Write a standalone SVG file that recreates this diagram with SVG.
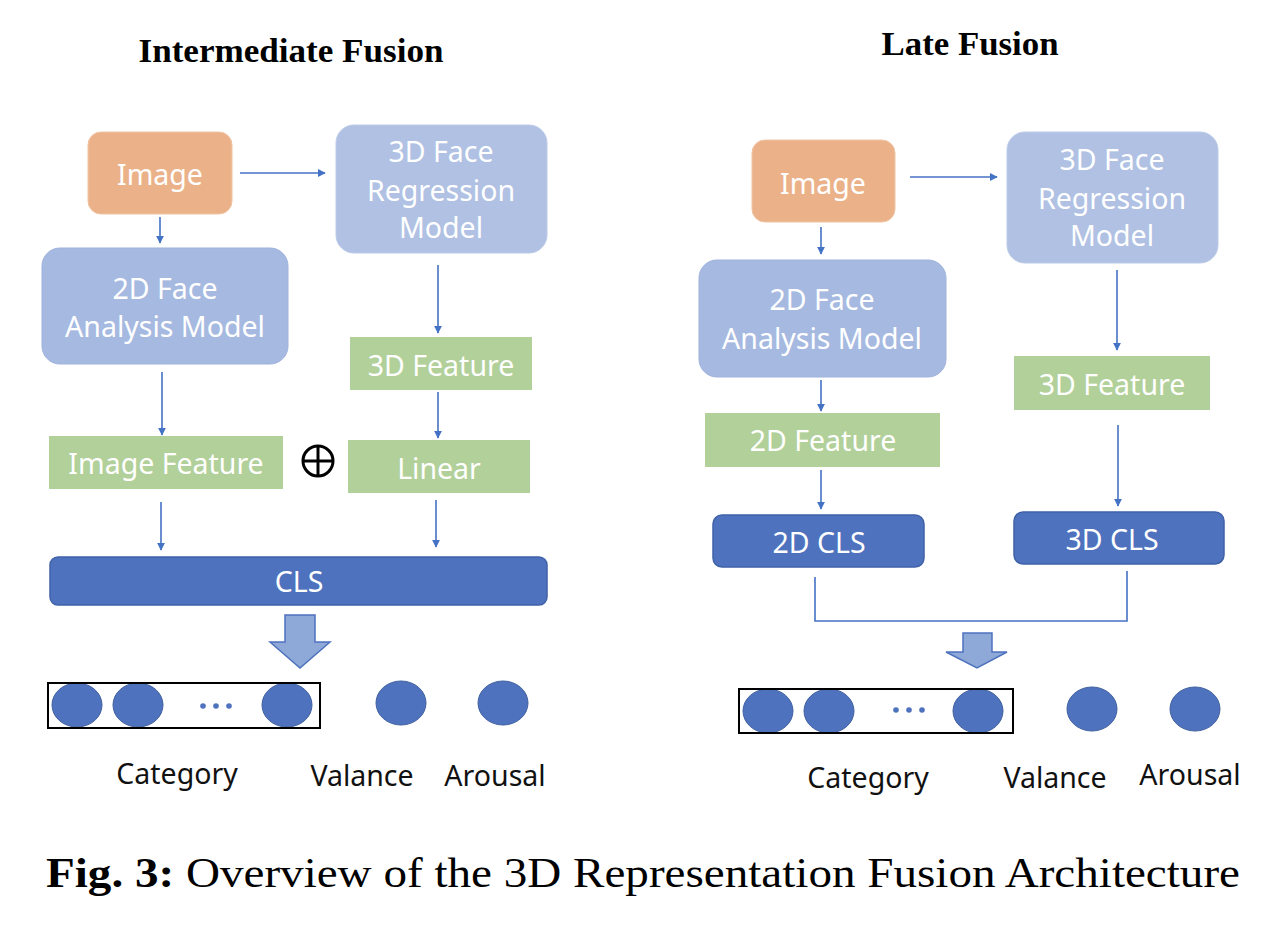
<svg xmlns="http://www.w3.org/2000/svg" width="1270" height="944" viewBox="0 0 1270 944">
<defs>
<marker id="ah" viewBox="0 0 10 10" refX="9" refY="5" markerWidth="8" markerHeight="8" markerUnits="userSpaceOnUse" orient="auto"><path d="M0,0 L10,5 L0,10 z" fill="#4472C4"/></marker>
<style>
.t{font-family:"Noto Sans","Liberation Sans",sans-serif;font-size:28.5px;fill:#fff;text-anchor:middle}
.lb{font-family:"Noto Sans","Liberation Sans",sans-serif;font-size:28.5px;fill:#111;text-anchor:middle}
.title{font-family:"Liberation Serif",serif;font-weight:bold;font-size:34px;fill:#000;text-anchor:middle}
.img{fill:#EBB28A;stroke:#F0C4A4;stroke-width:1}
.reg{fill:#B0C1E3;stroke:#BCCBE8;stroke-width:1}
.ana{fill:#A6B9E0;stroke:#9FB2DC;stroke-width:1}
.feat{fill:#B2D09A}
.cls{fill:#4E72BE;stroke:#3F62A8;stroke-width:1.5}
.ell{fill:#4E72BE;stroke:#41609F;stroke-width:1}
.conn{stroke:#4472C4;stroke-width:1.6;fill:none}
.barrow{fill:#8EA8D8;stroke:#4E72BE;stroke-width:1.5}
.box{fill:none;stroke:#000;stroke-width:2}
.dot{fill:#4E72BE}
</style>
</defs>
<rect width="1270" height="944" fill="#fff"/>

<text class="title" x="291" y="62" textLength="305" lengthAdjust="spacingAndGlyphs">Intermediate Fusion</text>
<text class="title" x="970" y="55" textLength="177" lengthAdjust="spacingAndGlyphs">Late Fusion</text>

<!-- Left panel nodes -->
<g id="L_image"><rect class="img" x="88" y="132" width="144" height="82" rx="13"/><text class="t" x="160" y="185">Image</text></g>
<g id="L_reg"><rect class="reg" x="336" y="125" width="211" height="128" rx="18"/><text class="t" x="441" y="162">3D Face</text><text class="t" x="441" y="201">Regression</text><text class="t" x="441" y="238">Model</text></g>
<g id="L_ana"><rect class="ana" x="42" y="248" width="246" height="116" rx="18"/><text class="t" x="165" y="299">2D Face</text><text class="t" x="165" y="337">Analysis Model</text></g>
<g id="L_feat3d"><rect class="feat" x="350" y="337" width="182" height="53"/><text class="t" x="441" y="376">3D Feature</text></g>
<g id="L_imgfeat"><rect class="feat" x="49" y="436" width="234" height="53"/><text class="t" x="166" y="474">Image Feature</text></g>
<g id="L_plus"><circle cx="318" cy="461" r="15" fill="none" stroke="#000" stroke-width="3"/><line x1="303" y1="461" x2="333" y2="461" stroke="#000" stroke-width="3"/><line x1="318" y1="446" x2="318" y2="476" stroke="#000" stroke-width="3"/></g>
<g id="L_linear"><rect class="feat" x="348" y="440" width="182" height="53"/><text class="t" x="439" y="479">Linear</text></g>
<g id="L_cls"><rect class="cls" x="50" y="557" width="497" height="48" rx="8"/><text class="t" x="299" y="592">CLS</text></g>
<g id="L_out">
<path class="barrow" d="M285,615 H315 V642 H330 L300,668 L270,642 H285 Z"/>
<ellipse class="ell" cx="77" cy="705" rx="25" ry="22"/>
<ellipse class="ell" cx="138" cy="705" rx="25" ry="22"/>
<ellipse class="ell" cx="287" cy="705" rx="25" ry="22"/>
<rect class="box" x="48" y="683" width="272" height="45"/>
<circle class="dot" cx="203" cy="706" r="2.8"/><circle class="dot" cx="216" cy="706" r="2.8"/><circle class="dot" cx="229" cy="706" r="2.8"/>
<ellipse class="ell" cx="401" cy="703" rx="25" ry="22"/>
<ellipse class="ell" cx="503" cy="703" rx="25" ry="22"/>
<text class="lb" x="177" y="784">Category</text>
<text class="lb" x="362" y="786">Valance</text>
<text class="lb" x="495" y="786">Arousal</text>
</g>

<!-- Right panel nodes -->
<g id="R_image"><rect class="img" x="752" y="140" width="143" height="82" rx="13"/><text class="t" x="823" y="194">Image</text></g>
<g id="R_reg"><rect class="reg" x="1007" y="132" width="211" height="131" rx="18"/><text class="t" x="1112" y="170">3D Face</text><text class="t" x="1112" y="209">Regression</text><text class="t" x="1112" y="246">Model</text></g>
<g id="R_ana"><rect class="ana" x="699" y="260" width="247" height="117" rx="18"/><text class="t" x="822" y="310">2D Face</text><text class="t" x="822" y="349">Analysis Model</text></g>
<g id="R_feat3d"><rect class="feat" x="1014" y="356" width="196" height="54"/><text class="t" x="1112" y="395">3D Feature</text></g>
<g id="R_feat2d"><rect class="feat" x="705" y="413" width="235" height="54"/><text class="t" x="823" y="451">2D Feature</text></g>
<g id="R_cls2d"><rect class="cls" x="713" y="515" width="211" height="52" rx="9"/><text class="t" x="819" y="553">2D CLS</text></g>
<g id="R_cls3d"><rect class="cls" x="1014" y="512" width="210" height="52" rx="9"/><text class="t" x="1112" y="550">3D CLS</text></g>
<g id="R_out">
<path class="barrow" d="M963,633 H992 V652 H1007 L977,668 L946,652 H963 Z"/>
<ellipse class="ell" cx="768" cy="711" rx="25" ry="22"/>
<ellipse class="ell" cx="829" cy="711" rx="25" ry="22"/>
<ellipse class="ell" cx="978" cy="711" rx="25" ry="22"/>
<rect class="box" x="739" y="689" width="274" height="44"/>
<circle class="dot" cx="896" cy="710" r="2.8"/><circle class="dot" cx="909" cy="710" r="2.8"/><circle class="dot" cx="922" cy="710" r="2.8"/>
<ellipse class="ell" cx="1092" cy="709" rx="25" ry="22"/>
<ellipse class="ell" cx="1195" cy="709" rx="25" ry="22"/>
<text class="lb" x="868" y="788">Category</text>
<text class="lb" x="1055" y="788">Valance</text>
<text class="lb" x="1190" y="785">Arousal</text>
</g>

<!-- Connectors -->
<g id="connectors">
<line class="conn" x1="240" y1="173" x2="325" y2="173" marker-end="url(#ah)"/>
<line class="conn" x1="160" y1="217" x2="160" y2="243" marker-end="url(#ah)"/>
<line class="conn" x1="438" y1="265" x2="438" y2="333" marker-end="url(#ah)"/>
<line class="conn" x1="162" y1="372" x2="162" y2="435" marker-end="url(#ah)"/>
<line class="conn" x1="438" y1="392" x2="438" y2="438" marker-end="url(#ah)"/>
<line class="conn" x1="161" y1="502" x2="161" y2="550" marker-end="url(#ah)"/>
<line class="conn" x1="436" y1="500" x2="436" y2="547" marker-end="url(#ah)"/>

<line class="conn" x1="910" y1="177" x2="997" y2="177" marker-end="url(#ah)"/>
<line class="conn" x1="821" y1="227" x2="821" y2="254" marker-end="url(#ah)"/>
<line class="conn" x1="1117" y1="270" x2="1117" y2="350" marker-end="url(#ah)"/>
<line class="conn" x1="821" y1="380" x2="821" y2="411" marker-end="url(#ah)"/>
<line class="conn" x1="1118" y1="425" x2="1118" y2="506" marker-end="url(#ah)"/>
<line class="conn" x1="821" y1="470" x2="821" y2="509" marker-end="url(#ah)"/>
<polyline class="conn" points="815,577 815,621 1127,621 1127,571"/>
</g>

<text x="46" y="887" font-family="Liberation Serif, serif" font-size="43" fill="#000" textLength="1194" lengthAdjust="spacingAndGlyphs"><tspan font-weight="bold">Fig. 3:</tspan> Overview of the 3D Representation Fusion Architecture</text>
</svg>
